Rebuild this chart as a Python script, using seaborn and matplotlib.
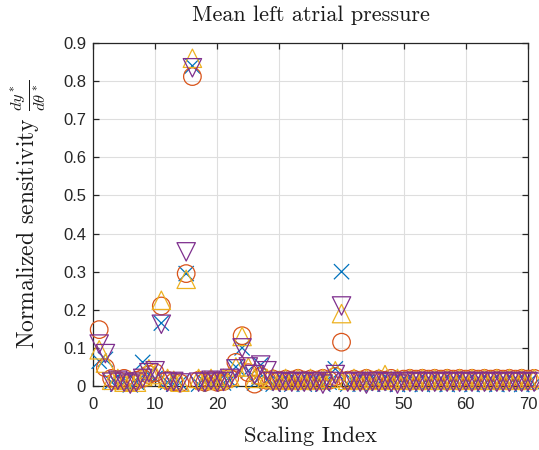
import numpy as np
import pandas as pd
import matplotlib
matplotlib.use("Agg")
import matplotlib.pyplot as plt
import seaborn as sns

# ---------------- data ----------------
index = list(range(1, 72))

series_x = [0.065, 0.070, 0.010, 0.005, 0.010, 0.003, 0.010, 0.062, 0.030, 0.020,
            0.165, 0.010, 0.005, 0.008, 0.295, 0.840, 0.005, 0.010, 0.005, 0.010,
            0.008, 0.015, 0.050, 0.100, 0.040, 0.008, 0.055, 0.015, 0.005, 0.008,
            0.010, 0.005, 0.010, 0.005, 0.008, 0.010, 0.005, 0.010, 0.045, 0.300,
            0.005, 0.010, 0.005, 0.010, 0.005, 0.008, 0.005, 0.010, 0.004, 0.008,
            0.005, 0.010, 0.004, 0.008, 0.005, 0.010, 0.004, 0.008, 0.005, 0.010,
            0.004, 0.008, 0.005, 0.010, 0.004, 0.008, 0.005, 0.010, 0.004, 0.008,
            0.005]

series_o = [0.148, 0.048, 0.020, 0.015, 0.020, 0.010, 0.015, 0.020, 0.030, 0.035,
            0.210, 0.015, 0.010, 0.008, 0.295, 0.812, 0.015, 0.010, 0.015, 0.010,
            0.012, 0.020, 0.062, 0.132, 0.035, 0.005, 0.025, 0.015, 0.018, 0.015,
            0.018, 0.015, 0.020, 0.015, 0.018, 0.015, 0.020, 0.015, 0.025, 0.115,
            0.015, 0.018, 0.015, 0.020, 0.015, 0.018, 0.015, 0.020, 0.015, 0.018,
            0.020, 0.018, 0.020, 0.018, 0.020, 0.018, 0.020, 0.018, 0.020, 0.018,
            0.020, 0.018, 0.020, 0.018, 0.020, 0.018, 0.020, 0.018, 0.020, 0.018,
            0.020]

series_up = [0.095, 0.060, 0.015, 0.020, 0.010, 0.015, 0.010, 0.025, 0.045, 0.030,
             0.225, 0.020, 0.015, 0.010, 0.280, 0.860, 0.020, 0.015, 0.020, 0.015,
             0.020, 0.025, 0.050, 0.130, 0.050, 0.020, 0.030, 0.020, 0.020, 0.015,
             0.020, 0.015, 0.020, 0.015, 0.020, 0.015, 0.020, 0.020, 0.040, 0.190,
             0.015, 0.020, 0.015, 0.020, 0.015, 0.020, 0.030, 0.015, 0.020, 0.015,
             0.020, 0.015, 0.020, 0.015, 0.020, 0.015, 0.020, 0.015, 0.020, 0.015,
             0.020, 0.015, 0.020, 0.015, 0.020, 0.015, 0.020, 0.015, 0.020, 0.015,
             0.020]

series_down = [0.110, 0.085, 0.010, 0.015, 0.010, 0.005, 0.010, 0.020, 0.035, 0.040,
               0.162, 0.010, 0.012, 0.008, 0.352, 0.835, 0.010, 0.010, 0.015, 0.010,
               0.012, 0.020, 0.045, 0.100, 0.050, 0.030, 0.055, 0.040, 0.012, 0.010,
               0.012, 0.010, 0.012, 0.010, 0.012, 0.010, 0.005, 0.012, 0.030, 0.210,
               0.010, 0.012, 0.010, 0.005, 0.012, 0.010, 0.012, 0.010, 0.005, 0.012,
               0.010, 0.012, 0.010, 0.012, 0.010, 0.012, 0.010, 0.012, 0.010, 0.012,
               0.010, 0.012, 0.010, 0.012, 0.010, 0.012, 0.010, 0.012, 0.010, 0.012,
               0.010]

x_ticks = [0, 10, 20, 30, 40, 50, 60, 70]
y_ticks = [0, 0.1, 0.2, 0.3, 0.4, 0.5, 0.6, 0.7, 0.8, 0.9]
y_tick_labels = ["0", "0.1", "0.2", "0.3", "0.4", "0.5", "0.6", "0.7", "0.8", "0.9"]

title_text = "Mean left atrial pressure"
xlabel_text = "Scaling Index"
ylabel_text = r"Normalized sensitivity $\frac{dy^*}{d\theta^*}$"

# ---------------- style ----------------
sns.set_theme(style="white")
plt.rcParams["font.family"] = ["Liberation Sans", "DejaVu Sans"]
plt.rcParams["mathtext.fontset"] = "cm"

colors = {"x": "#0072BD", "o": "#D95319", "^": "#EDB120", "v": "#7E2F8E"}
sizes = {"x": 120, "o": 160, "^": 175, "v": 175}

fig = plt.figure(figsize=(5.39, 4.5), dpi=100)
ax = fig.add_axes([0.1725, 0.1422, 0.807, 0.7622])

for marker, vals in [("x", series_x), ("o", series_o), ("^", series_up), ("v", series_down)]:
    df = pd.DataFrame({"idx": index, "val": vals})
    sns.scatterplot(data=df, x="idx", y="val", marker=marker, s=sizes[marker],
                    color=colors[marker], linewidth=0.9, ax=ax, zorder=3, clip_on=False)
    coll = ax.collections[-1]
    coll.set_facecolor("none")
    coll.set_edgecolor(colors[marker])
    coll.set_linewidth(0.9)

ax.set_xlim(0, 70)
ax.set_ylim(0, 0.9)
ax.set_xticks(x_ticks)
ax.set_yticks(y_ticks)
ax.set_yticklabels(y_tick_labels)

ax.grid(True, color="#dedede", linewidth=0.8)
ax.set_axisbelow(True)
for sp in ax.spines.values():
    sp.set_color("#262626")
    sp.set_linewidth(0.9)
    sp.set_visible(True)
ax.tick_params(direction="in", length=4.5, width=0.9, colors="#262626",
               labelsize=12, top=True, right=True, bottom=True, left=True,
               labelcolor="#262626")
ax.tick_params(axis="x", pad=8)
ax.tick_params(axis="y", pad=5)

ax.set_title(title_text, fontfamily="cmr10", fontsize=16, color="#1a1a1a", pad=16)
ax.set_xlabel(xlabel_text, fontfamily="cmr10", fontsize=16.3, color="#1a1a1a", labelpad=10)
ax.set_ylabel(ylabel_text, fontfamily="cmr10", fontsize=17, color="#1a1a1a", labelpad=10)

fig.savefig("out.png", dpi=100)
